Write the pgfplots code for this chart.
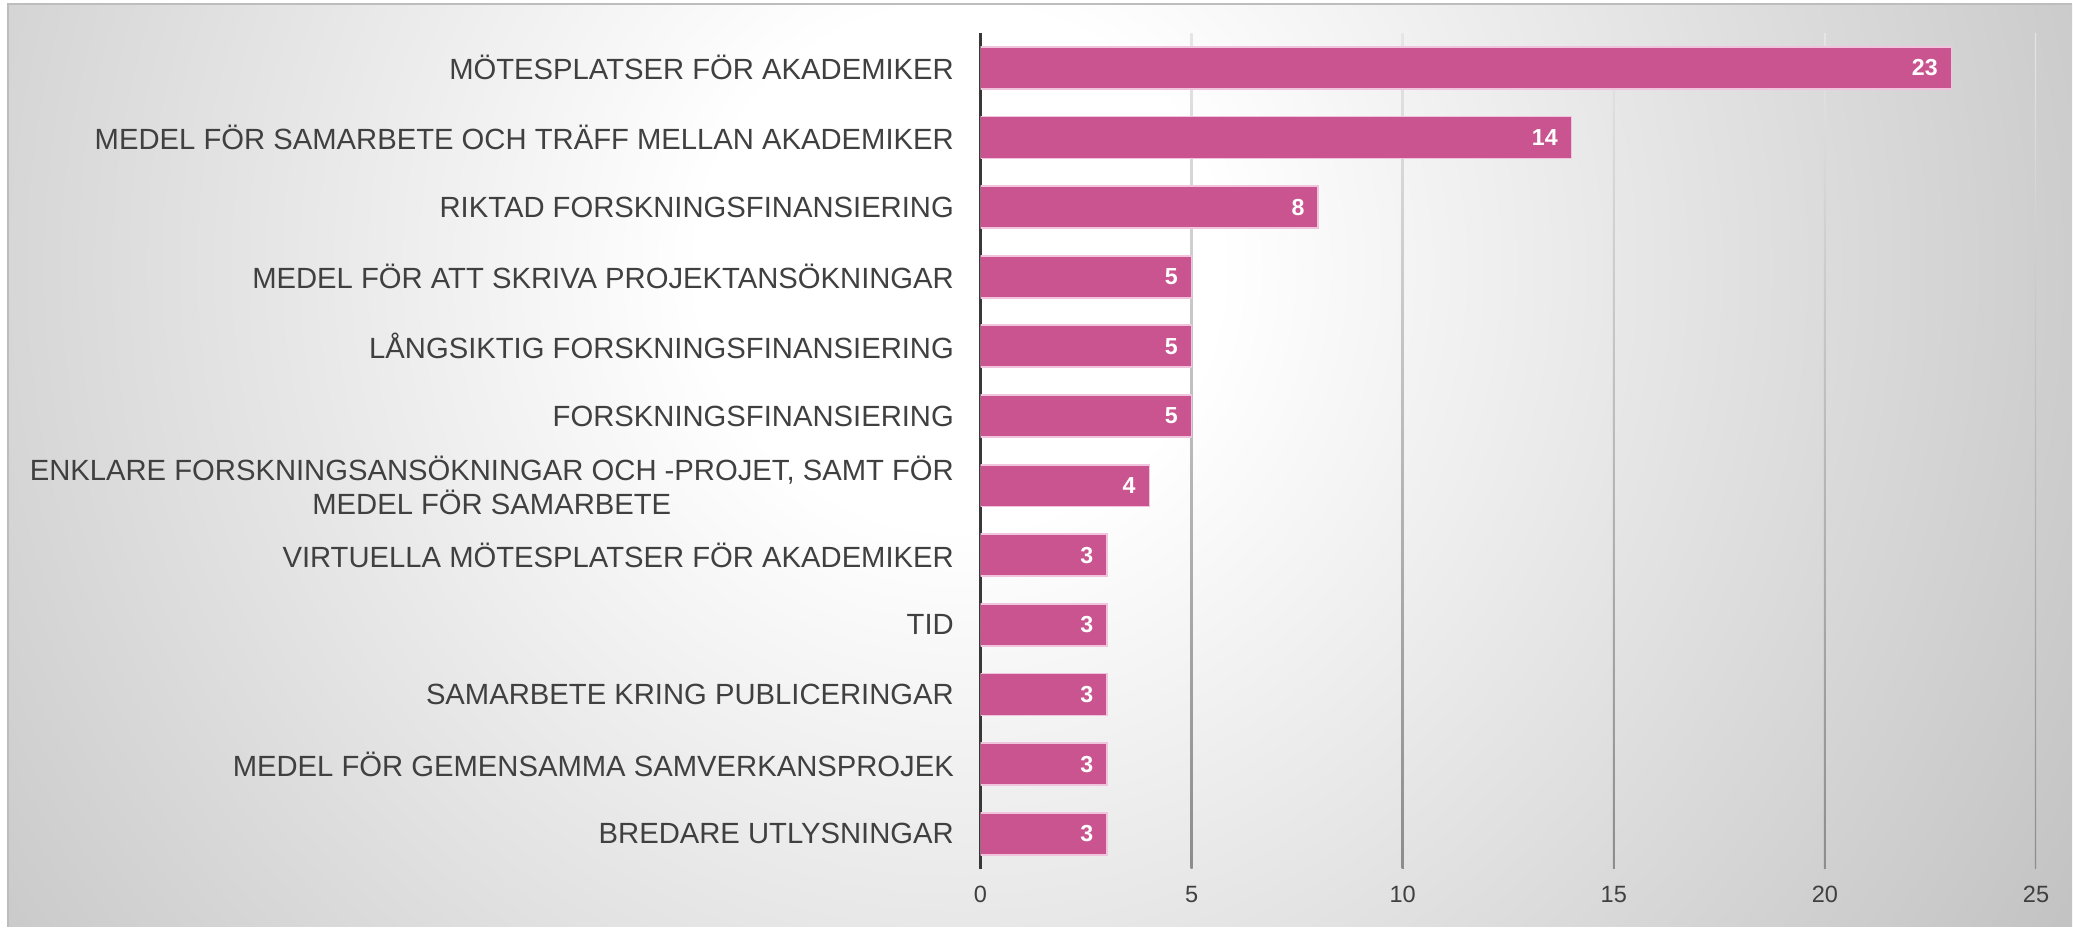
\documentclass[border=0pt]{standalone}
\usepackage{pgfplots}
\pgfplotsset{compat=1.18}
\usepackage{fontspec}
\setmainfont{Liberation Sans}
\definecolor{barpink}{RGB}{201,84,143}
\definecolor{baredge}{RGB}{240,196,220}
\definecolor{labgray}{RGB}{64,64,64}
\definecolor{bgouter}{RGB}{194,194,194}
\pgfdeclareradialshading{bgshade}{\pgfpointorigin}{color(0bp)=(white); color(5bp)=(white); color(25bp)=(bgouter); color(50bp)=(bgouter)}
\begin{document}
\begin{tikzpicture}
\fill[white] (0,0) rectangle (20.73,9.27);
\begin{scope}
\clip (0.08,0) rectangle (20.73,9.23);
\shade[shading=bgshade] (9.6,6.6) circle (13cm);
\end{scope}
\draw[black!26, line width=0.02cm] (0.08,0) -- (0.08,9.23) -- (20.73,9.23);
\begin{axis}[
  at={(9.81cm,0.58cm)}, anchor=south west,
  scale only axis, width=10.56cm, height=8.36cm,
  xbar, bar width=0.42cm,
  xmin=0, xmax=25, ymin=-0.5, ymax=11.5,
  y dir=reverse,
  axis lines*=left,
  x axis line style={draw=none},
  y axis line style={draw=black!78, line width=0.022cm},
  major tick length=0pt,
  xtick={0,5,10,15,20,25},
  ytick={0,1,2,3,4,5,6,7,8,9,10,11},
  yticklabels={MÖTESPLATSER FÖR AKADEMIKER,
    MEDEL FÖR SAMARBETE OCH TRÄFF MELLAN AKADEMIKER,
    RIKTAD FORSKNINGSFINANSIERING,
    MEDEL FÖR ATT SKRIVA PROJEKTANSÖKNINGAR,
    LÅNGSIKTIG FORSKNINGSFINANSIERING,
    FORSKNINGSFINANSIERING,
    {ENKLARE FORSKNINGSANSÖKNINGAR OCH -PROJET, SAMT FÖR\\MEDEL FÖR SAMARBETE},
    VIRTUELLA MÖTESPLATSER FÖR AKADEMIKER,
    TID,
    SAMARBETE KRING PUBLICERINGAR,
    MEDEL FÖR GEMENSAMMA SAMVERKANSPROJEK,
    BREDARE UTLYSNINGAR},
  yticklabel style={font=\fontsize{8.32}{9.8}\selectfont, text=labgray, align=center, inner sep=0pt, xshift=-0.26cm},
  xticklabel style={font=\fontsize{6.7}{8}\selectfont, text=labgray, inner sep=0pt, yshift=-0.17cm},
  /pgf/number format/assume math mode=true,
  nodes near coords,
  every node near coord/.append style={anchor=east, xshift=-0.13cm, inner sep=0pt, text=white, font=\bfseries\fontsize{6.6}{8}\selectfont},
]
\pgfplotsinvokeforeach{5,10,15,20,25}{
  \shade[top color=black!10, bottom color=black!45] ([xshift=-0.3pt]axis cs:#1,11.5) rectangle ([xshift=0.3pt]axis cs:#1,-0.5);
}
\addplot[fill=barpink, draw=baredge, line width=0.5pt] coordinates {
(23,0) (14,1) (8,2) (5,3) (5,4) (5,5) (4,6) (3,7) (3,8) (3,9) (3,10) (3,11)
};
\end{axis}
\end{tikzpicture}
\end{document}
